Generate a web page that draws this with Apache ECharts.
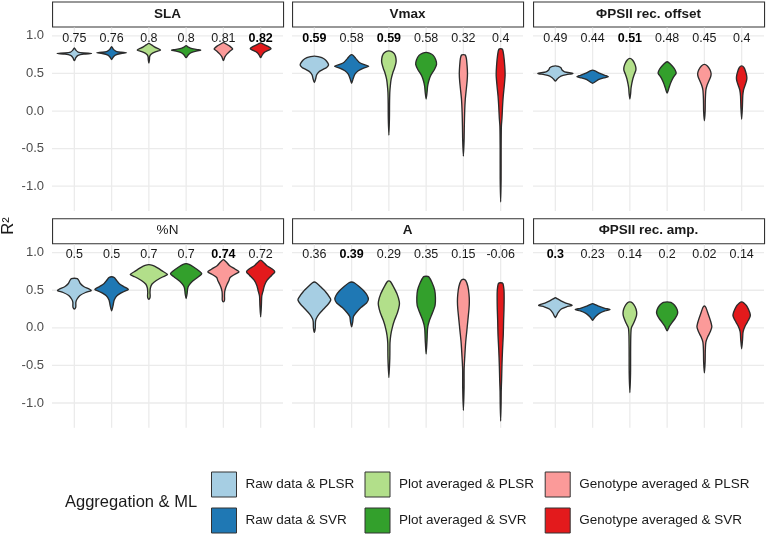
<!DOCTYPE html>
<html>
<head>
<meta charset="utf-8">
<script src="https://cdn.jsdelivr.net/npm/echarts@6/dist/echarts.min.js"></script>
<style>html,body{margin:0;padding:0;background:#fff}#c{width:766px;height:535px}</style>
</head>
<body>
<div id="c"></div>
<script>
// ---------------- data ----------------
const facetNames = ['SLA', 'Vmax', 'ΦPSII rec. offset', '%N', 'A', 'ΦPSII rec. amp.'];
const facetTitleBold = [true, true, true, false, true, true];
const groups = ['Raw data & PLSR', 'Raw data & SVR', 'Plot averaged & PLSR', 'Plot averaged & SVR', 'Genotype averaged & PLSR', 'Genotype averaged & SVR'];
const groupColors = ['#A6CEE3', '#1F78B4', '#B2DF8A', '#33A02C', '#FB9A99', '#E31A1C'];
const yTicks = [-1.0, -0.5, 0.0, 0.5, 1.0];

// median R² per facet (label above each violin)
const medianSLA = [0.75, 0.76, 0.8, 0.8, 0.81, 0.82];
const medianVmax = [0.59, 0.58, 0.59, 0.58, 0.32, 0.4];
const medianOffset = [0.49, 0.44, 0.51, 0.48, 0.45, 0.4];
const medianN = [0.5, 0.5, 0.7, 0.7, 0.74, 0.72];
const medianA = [0.36, 0.39, 0.29, 0.35, 0.15, -0.06];
const medianAmp = [0.3, 0.23, 0.14, 0.2, 0.02, 0.14];

// violin outlines: [R², half width in category units], top to bottom
const violinSLA = [
  [[0.84,0],[0.81,0.04],[0.785,0.1],[0.772,0.25],[0.765,0.46],[0.757,0.25],[0.74,0.1],[0.71,0.04],[0.67,0]],
  [[0.855,0],[0.82,0.05],[0.795,0.12],[0.782,0.25],[0.774,0.40],[0.765,0.25],[0.745,0.1],[0.715,0.04],[0.686,0]],
  [[0.90,0],[0.88,0.07],[0.85,0.16],[0.825,0.27],[0.81,0.31],[0.795,0.22],[0.77,0.1],[0.745,0.04],[0.72,0.02],[0.68,0.015],[0.64,0]],
  [[0.87,0],[0.85,0.06],[0.83,0.16],[0.817,0.32],[0.81,0.39],[0.80,0.3],[0.78,0.15],[0.75,0.06],[0.71,0]],
  [[0.91,0],[0.89,0.08],[0.86,0.18],[0.825,0.25],[0.80,0.18],[0.76,0.1],[0.72,0.04],[0.67,0]],
  [[0.907,0],[0.89,0.07],[0.86,0.2],[0.83,0.28],[0.81,0.22],[0.78,0.1],[0.745,0.04],[0.71,0]]
];
const violinVmax = [
  [[0.73,0],[0.725,0.1],[0.71,0.2],[0.68,0.3],[0.64,0.36],[0.61,0.38],[0.58,0.33],[0.55,0.22],[0.52,0.12],[0.48,0.06],[0.43,0.035],[0.38,0]],
  [[0.75,0],[0.735,0.05],[0.70,0.11],[0.65,0.2],[0.62,0.32],[0.595,0.46],[0.57,0.32],[0.535,0.18],[0.49,0.09],[0.43,0.04],[0.37,0]],
  [[0.80,0],[0.79,0.08],[0.76,0.15],[0.70,0.19],[0.64,0.19],[0.57,0.15],[0.5,0.1],[0.42,0.06],[0.34,0.04],[0.25,0.025],[0.1,0.018],[-0.1,0.015],[-0.32,0]],
  [[0.78,0],[0.77,0.09],[0.74,0.19],[0.68,0.26],[0.62,0.28],[0.55,0.22],[0.47,0.12],[0.40,0.07],[0.33,0.04],[0.25,0.025],[0.16,0]],
  [[0.75,0],[0.745,0.05],[0.7,0.08],[0.6,0.1],[0.5,0.11],[0.4,0.1],[0.3,0.08],[0.15,0.05],[0.0,0.035],[-0.2,0.025],[-0.4,0.018],[-0.6,0]],
  [[0.83,0],[0.82,0.05],[0.75,0.08],[0.6,0.11],[0.48,0.12],[0.35,0.1],[0.2,0.07],[0.05,0.05],[-0.1,0.035],[-0.2,0.02],[-0.5,0.013],[-0.9,0.012],[-1.21,0]]
];
const violinOffset = [
  [[0.60,0],[0.595,0.08],[0.575,0.15],[0.545,0.18],[0.52,0.25],[0.50,0.47],[0.485,0.3],[0.465,0.15],[0.44,0.08],[0.42,0.04],[0.40,0]],
  [[0.545,0],[0.53,0.08],[0.50,0.2],[0.475,0.33],[0.456,0.42],[0.44,0.3],[0.42,0.17],[0.39,0.07],[0.37,0]],
  [[0.70,0],[0.68,0.07],[0.63,0.13],[0.58,0.16],[0.54,0.16],[0.49,0.12],[0.43,0.08],[0.36,0.05],[0.30,0.03],[0.23,0.02],[0.16,0]],
  [[0.655,0],[0.63,0.08],[0.58,0.17],[0.53,0.23],[0.50,0.24],[0.45,0.17],[0.38,0.1],[0.31,0.05],[0.24,0]],
  [[0.62,0],[0.60,0.08],[0.55,0.15],[0.50,0.18],[0.46,0.17],[0.40,0.12],[0.34,0.07],[0.28,0.04],[0.15,0.025],[0.0,0.02],[-0.13,0]],
  [[0.60,0],[0.58,0.06],[0.52,0.11],[0.45,0.14],[0.40,0.13],[0.34,0.09],[0.28,0.05],[0.2,0.03],[0.05,0.02],[-0.11,0]]
];
const violinN = [
  [[0.66,0],[0.655,0.08],[0.63,0.12],[0.59,0.16],[0.55,0.25],[0.51,0.42],[0.495,0.45],[0.47,0.3],[0.43,0.15],[0.38,0.07],[0.34,0.04],[0.30,0.04],[0.27,0.035],[0.25,0]],
  [[0.68,0],[0.67,0.07],[0.64,0.12],[0.59,0.2],[0.55,0.32],[0.51,0.45],[0.48,0.32],[0.43,0.15],[0.37,0.07],[0.30,0.04],[0.226,0]],
  [[0.84,0],[0.83,0.1],[0.80,0.22],[0.75,0.38],[0.71,0.5],[0.68,0.38],[0.63,0.2],[0.58,0.08],[0.53,0.04],[0.47,0.03],[0.43,0.035],[0.40,0.03],[0.38,0]],
  [[0.855,0],[0.845,0.08],[0.81,0.2],[0.76,0.34],[0.72,0.42],[0.68,0.33],[0.62,0.17],[0.56,0.07],[0.52,0.04],[0.45,0.025],[0.39,0]],
  [[0.907,0],[0.88,0.07],[0.83,0.16],[0.78,0.32],[0.745,0.42],[0.71,0.3],[0.67,0.18],[0.63,0.15],[0.58,0.1],[0.53,0.06],[0.48,0.035],[0.42,0.03],[0.37,0.03],[0.345,0]],
  [[0.90,0],[0.88,0.06],[0.83,0.16],[0.78,0.32],[0.745,0.38],[0.70,0.3],[0.63,0.17],[0.56,0.1],[0.50,0.07],[0.42,0.03],[0.3,0.02],[0.146,0]]
];
const violinA = [
  [[0.61,0],[0.60,0.05],[0.55,0.16],[0.48,0.3],[0.40,0.42],[0.37,0.44],[0.32,0.38],[0.25,0.25],[0.18,0.12],[0.12,0.05],[0.08,0.03],[0.0,0.025],[-0.06,0]],
  [[0.61,0],[0.60,0.07],[0.55,0.2],[0.49,0.33],[0.43,0.42],[0.38,0.45],[0.33,0.4],[0.27,0.25],[0.20,0.12],[0.15,0.05],[0.08,0.03],[0.013,0]],
  [[0.624,0],[0.61,0.05],[0.55,0.12],[0.45,0.22],[0.35,0.28],[0.30,0.28],[0.2,0.23],[0.1,0.15],[0.0,0.09],[-0.1,0.05],[-0.2,0.03],[-0.4,0.025],[-0.66,0]],
  [[0.686,0],[0.68,0.07],[0.6,0.16],[0.5,0.23],[0.4,0.25],[0.3,0.24],[0.2,0.17],[0.1,0.09],[0.0,0.04],[-0.15,0.025],[-0.35,0]],
  [[0.646,0],[0.63,0.06],[0.55,0.12],[0.45,0.15],[0.35,0.16],[0.25,0.15],[0.1,0.12],[-0.05,0.09],[-0.2,0.06],[-0.4,0.035],[-0.55,0.02],[-0.8,0.018],[-1.1,0]],
  [[0.60,0],[0.59,0.06],[0.5,0.09],[0.4,0.094],[0.25,0.09],[0.1,0.08],[-0.1,0.07],[-0.3,0.05],[-0.5,0.035],[-0.7,0.025],[-0.85,0.015],[-1.0,0.012],[-1.24,0]]
];
const violinAmp = [
  [[0.40,0],[0.385,0.06],[0.36,0.15],[0.33,0.28],[0.30,0.45],[0.28,0.3],[0.25,0.16],[0.20,0.07],[0.16,0.03],[0.137,0]],
  [[0.323,0],[0.31,0.07],[0.285,0.18],[0.26,0.33],[0.243,0.47],[0.225,0.33],[0.19,0.17],[0.15,0.08],[0.12,0.03],[0.10,0]],
  [[0.345,0],[0.33,0.07],[0.28,0.14],[0.22,0.18],[0.17,0.18],[0.12,0.15],[0.06,0.1],[0.0,0.04],[-0.1,0.025],[-0.3,0.02],[-0.6,0.018],[-0.86,0]],
  [[0.345,0],[0.34,0.1],[0.30,0.2],[0.24,0.27],[0.19,0.28],[0.13,0.22],[0.07,0.13],[0.02,0.06],[-0.04,0]],
  [[0.29,0],[0.27,0.04],[0.2,0.09],[0.1,0.16],[0.013,0.2],[-0.05,0.16],[-0.12,0.09],[-0.19,0.04],[-0.3,0.025],[-0.45,0.02],[-0.6,0]],
  [[0.345,0],[0.33,0.06],[0.28,0.15],[0.2,0.22],[0.155,0.23],[0.1,0.18],[0.03,0.1],[-0.05,0.04],[-0.15,0.025],[-0.28,0]]
];

const medians = [medianSLA, medianVmax, medianOffset, medianN, medianA, medianAmp];
const violins = [violinSLA, violinVmax, violinOffset, violinN, violinA, violinAmp];

// ---------------- layout / style ----------------
const FONT = "'Liberation Sans', Arial, Helvetica, sans-serif";
const colLeft = [52, 292, 533];
const panelW = 231;
const rowTop = [27.6, 244.4];
const panelH = 183.4;
const stripH = 25;
const Y_MIN = -1.33, Y_MAX = 1.11;
const LABEL_Y = 0.97;
const OUTLINE = '#2B2B2B';

const grids = [], xAxes = [], yAxes = [], series = [], graphics = [];

facetNames.forEach((fname, f) => {
  const col = f % 3, row = Math.floor(f / 3);
  const left = colLeft[col], top = rowTop[row];
  grids.push({ left: left, top: top, width: panelW, height: panelH, containLabel: false });
  xAxes.push({ gridIndex: f, type: 'value', min: 0.4, max: 6.6, show: false });
  yAxes.push({
    gridIndex: f, type: 'value', min: Y_MIN, max: Y_MAX,
    axisLine: { show: false }, axisTick: { show: false }, splitLine: { show: false },
    axisLabel: {
      show: col === 0, customValues: yTicks, formatter: v => Number(v).toFixed(1),
      color: '#4D4D4D', fontSize: 13, margin: 8, fontFamily: FONT
    }
  });

  // gridlines (horizontal at tick values, vertical at categories)
  series.push({
    type: 'custom', xAxisIndex: f, yAxisIndex: f, silent: true, z: 0,
    data: yTicks.map(v => [1, v]), clip: false,
    renderItem: (params, api) => {
      const cs = params.coordSys;
      const p = api.coord([1, api.value(1)]);
      return { type: 'line', shape: { x1: cs.x, y1: p[1], x2: cs.x + cs.width, y2: p[1] },
        style: { stroke: '#EBEBEB', lineWidth: 1.3 } };
    }
  });
  series.push({
    type: 'custom', xAxisIndex: f, yAxisIndex: f, silent: true, z: 0,
    data: groups.map((g, i) => [i + 1, 0]), clip: false,
    renderItem: (params, api) => {
      const cs = params.coordSys;
      const p = api.coord([api.value(0), 0]);
      return { type: 'line', shape: { x1: p[0], y1: cs.y, x2: p[0], y2: cs.y + cs.height },
        style: { stroke: '#EBEBEB', lineWidth: 1.3 } };
    }
  });

  // violins, one series per group so the legend links to them
  groups.forEach((gname, g) => {
    const prof = violins[f][g];
    series.push({
      name: gname, type: 'custom', xAxisIndex: f, yAxisIndex: f, z: 2,
      itemStyle: { color: groupColors[g], borderColor: OUTLINE, borderWidth: 1 },
      data: [[g + 1, medians[f][g]]], clip: false,
      renderItem: (params, api) => {
        const cx = api.value(0);
        const pts = [];
        prof.forEach(k => pts.push(api.coord([cx + k[1], k[0]])));
        for (let i = prof.length - 1; i >= 0; i--) {
          const k = prof[i];
          if ((i === prof.length - 1 || i === 0) && k[1] === 0) continue;
          pts.push(api.coord([cx - k[1], k[0]]));
        }
        return { type: 'polygon', shape: { points: pts, smooth: 0.25 },
          style: { fill: groupColors[g], stroke: OUTLINE, lineWidth: 1.35, lineJoin: 'round' } };
      }
    });
  });

  // median labels
  const best = Math.max(...medians[f]);
  series.push({
    type: 'custom', xAxisIndex: f, yAxisIndex: f, silent: true, z: 3, clip: false,
    data: medians[f].map((m, i) => [i + 1, m]),
    renderItem: (params, api) => {
      const m = api.value(1);
      const p = api.coord([api.value(0), LABEL_Y]);
      const bold = m === best;
      return { type: 'text', x: p[0], y: p[1],
        style: { text: String(m), align: 'center', verticalAlign: 'middle',
          fontSize: 12.5, fontFamily: FONT, fontWeight: bold ? 'bold' : 'normal',
          fill: bold ? '#000000' : '#1A1A1A' } };
    }
  });

  // facet strip
  graphics.push({
    type: 'rect', left: left, top: top - stripH - 1.2, silent: true,
    shape: { width: panelW, height: stripH },
    style: { fill: '#FFFFFF', stroke: '#333333', lineWidth: 1.1 }
  });
  graphics.push({
    type: 'text', x: left + panelW / 2, y: top - stripH / 2 - 1.2, silent: true,
    style: { text: fname, align: 'center', verticalAlign: 'middle', fontSize: 13.5,
      fontWeight: facetTitleBold[f] ? 'bold' : 'normal', fontFamily: FONT, fill: '#1A1A1A' }
  });
});

// y axis title
graphics.push({
  type: 'text', x: 8, y: 226, rotation: Math.PI / 2, silent: true,
  style: { text: 'R²', align: 'center', verticalAlign: 'middle', fontSize: 16.5, fontFamily: FONT, fill: '#1A1A1A' }
});
// legend title
graphics.push({
  type: 'text', x: 65, y: 502.7, silent: true,
  style: { text: 'Aggregation & ML', align: 'left', verticalAlign: 'middle', fontSize: 16.5, fontFamily: FONT, fill: '#1A1A1A' }
});

const legendLefts = [211, 364.5, 544.7];
const legends = legendLefts.map((l, c) => ({
  left: l, top: 471.5, orient: 'vertical', padding: 0,
  itemWidth: 25, itemHeight: 25, itemGap: 10, icon: 'rect', selectedMode: false,
  data: [groups[c * 2], groups[c * 2 + 1]],
  itemStyle: { borderColor: '#333333', borderWidth: 1 },
  textStyle: { fontSize: 13.5, fontFamily: FONT, color: '#1A1A1A', padding: [0, 0, 0, 4] }
}));

const chart = echarts.init(document.getElementById('c'), null, { renderer: 'canvas' });
chart.setOption({
  animation: false,
  backgroundColor: '#FFFFFF',
  grid: grids, xAxis: xAxes, yAxis: yAxes,
  legend: legends,
  series: series,
  graphic: graphics
});
</script>
</body>
</html>
